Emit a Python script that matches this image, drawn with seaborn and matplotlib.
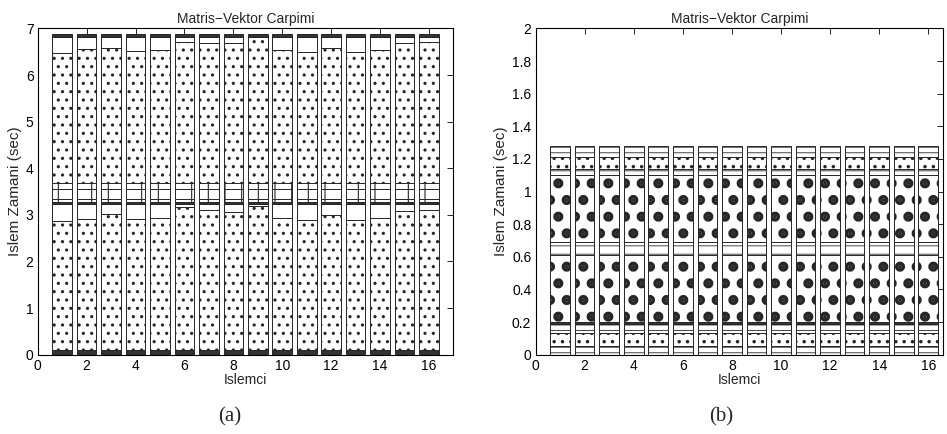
import numpy as np
import matplotlib
matplotlib.use('Agg')
import matplotlib.pyplot as plt
import seaborn as sns
from matplotlib.ticker import FuncFormatter

islemci = list(range(1, 17))

# (a) ust sinirlar (sec), alttan yukari
a_taban   = [0.09, 0.10, 0.09, 0.09, 0.10, 0.09, 0.09, 0.10, 0.09, 0.09, 0.10, 0.09, 0.09, 0.10, 0.09, 0.09]
a_nokta1  = [2.87, 2.92, 3.01, 2.92, 2.94, 3.16, 3.10, 3.07, 3.20, 2.93, 2.89, 3.00, 2.88, 2.93, 3.08, 3.10]
a_bos1    = [3.23, 3.23, 3.23, 3.23, 3.23, 3.23, 3.23, 3.23, 3.23, 3.23, 3.23, 3.23, 3.23, 3.23, 3.23, 3.23]
a_koyu1   = [3.28, 3.28, 3.28, 3.28, 3.28, 3.28, 3.28, 3.28, 3.28, 3.28, 3.28, 3.28, 3.28, 3.28, 3.28, 3.28]
a_izgara1 = [3.35, 3.35, 3.35, 3.35, 3.35, 3.35, 3.35, 3.35, 3.35, 3.35, 3.35, 3.35, 3.35, 3.35, 3.35, 3.35]
a_izgara2 = [3.55, 3.55, 3.55, 3.55, 3.55, 3.55, 3.55, 3.55, 3.55, 3.55, 3.55, 3.55, 3.55, 3.55, 3.55, 3.55]
a_izgara3 = [3.69, 3.69, 3.69, 3.69, 3.69, 3.69, 3.69, 3.69, 3.69, 3.69, 3.69, 3.69, 3.69, 3.69, 3.69, 3.69]
a_nokta2  = [6.47, 6.55, 6.59, 6.52, 6.54, 6.70, 6.68, 6.68, 6.82, 6.54, 6.50, 6.59, 6.49, 6.53, 6.68, 6.70]
a_bos2    = [6.82, 6.82, 6.82, 6.82, 6.82, 6.82, 6.82, 6.82, 6.82, 6.82, 6.82, 6.82, 6.82, 6.82, 6.82, 6.82]
a_ust     = [6.87, 6.87, 6.87, 6.87, 6.87, 6.87, 6.87, 6.87, 6.87, 6.87, 6.87, 6.87, 6.87, 6.87, 6.87, 6.87]

# (b) ust sinirlar (sec)
b_cizgi1  = [0.05, 0.05, 0.05, 0.05, 0.05, 0.05, 0.05, 0.05, 0.05, 0.05, 0.05, 0.05, 0.05, 0.05, 0.05, 0.05]
b_nokta1  = [0.13, 0.13, 0.13, 0.13, 0.13, 0.13, 0.13, 0.13, 0.13, 0.13, 0.13, 0.13, 0.13, 0.13, 0.13, 0.13]
b_cizgi2  = [0.19, 0.19, 0.19, 0.19, 0.19, 0.19, 0.19, 0.19, 0.19, 0.19, 0.19, 0.19, 0.19, 0.19, 0.19, 0.19]
b_koyu1   = [0.20, 0.20, 0.20, 0.20, 0.20, 0.20, 0.20, 0.20, 0.20, 0.20, 0.20, 0.20, 0.20, 0.20, 0.20, 0.20]
b_buyuk1  = [0.61, 0.61, 0.61, 0.61, 0.61, 0.61, 0.61, 0.61, 0.61, 0.61, 0.61, 0.61, 0.61, 0.61, 0.61, 0.61]
b_cizgi3  = [0.69, 0.69, 0.69, 0.69, 0.69, 0.69, 0.69, 0.69, 0.69, 0.69, 0.69, 0.69, 0.69, 0.69, 0.69, 0.69]
b_buyuk2  = [1.10, 1.10, 1.10, 1.10, 1.10, 1.10, 1.10, 1.10, 1.10, 1.10, 1.10, 1.10, 1.10, 1.10, 1.10, 1.10]
b_cizgi4  = [1.14, 1.14, 1.14, 1.14, 1.14, 1.14, 1.14, 1.14, 1.14, 1.14, 1.14, 1.14, 1.14, 1.14, 1.14, 1.14]
b_nokta2  = [1.21, 1.21, 1.21, 1.21, 1.21, 1.21, 1.21, 1.21, 1.21, 1.21, 1.21, 1.21, 1.21, 1.21, 1.21, 1.21]
b_ust     = [1.28, 1.28, 1.28, 1.28, 1.28, 1.28, 1.28, 1.28, 1.28, 1.28, 1.28, 1.28, 1.28, 1.28, 1.28, 1.28]

a_sinirlar = [a_taban, a_nokta1, a_bos1, a_koyu1, a_izgara1, a_izgara2, a_izgara3, a_nokta2, a_bos2, a_ust]
b_sinirlar = [b_cizgi1, b_nokta1, b_cizgi2, b_koyu1, b_buyuk1, b_cizgi3, b_buyuk2, b_cizgi4, b_nokta2, b_ust]

KOYU = '0.2'
# (desen, dolgu, desen cizgi kalinligi)
a_stil = [('', KOYU, 1), ('..', 'white', 1.1), ('', 'white', 1), ('', KOYU, 1),
          ('|', 'white', 0.8), ('|', 'white', 0.8), ('|', 'white', 0.8),
          ('..', 'white', 1.1), ('', 'white', 1), ('', KOYU, 1)]
b_stil = [('---', 'white', 0.6), ('..', 'white', 1.3), ('---', 'white', 0.6), ('', KOYU, 1),
          ('.', 'white', 4.8), ('--', 'white', 0.6), ('.', 'white', 4.8),
          ('--', 'white', 0.6), ('..', 'white', 1.3), ('---', 'white', 0.6)]

sns.set_style('white')
plt.rcParams['font.family'] = ['Liberation Sans', 'DejaVu Sans']
plt.rcParams['hatch.color'] = 'black'


def katmanlar(ax, sinirlar, stiller):
    alt = np.zeros(len(islemci))
    for ust, (desen, renk, hlw) in zip(sinirlar, stiller):
        ust = np.asarray(ust, float)
        sns.barplot(x=islemci, y=ust - alt, bottom=alt, native_scale=True, width=0.8,
                    color=renk, saturation=1, edgecolor='0.15', linewidth=0.7,
                    hatch=desen, errorbar=None, ax=ax)
        for p in ax.containers[-1]:
            if hasattr(p, 'set_hatch_linewidth'):
                p.set_hatch_linewidth(hlw)
        alt = ust


def eksen(ax, ymax, yticks, xmax):
    ax.set_xlim(0, xmax)
    ax.set_ylim(0, ymax)
    ax.set_xticks(range(0, 17, 2))
    ax.set_yticks(yticks)
    ax.yaxis.set_major_formatter(FuncFormatter(lambda v, p: '%g' % round(v, 2)))
    ax.tick_params(direction='in', top=True, right=True, length=4, width=0.6,
                   labelsize=10, pad=3, colors='black')
    for s in ax.spines.values():
        s.set_color('black')
        s.set_linewidth(0.8)
    ax.set_title('Matris\u2212Vektor Carpimi', fontsize=10, pad=4)
    ax.set_xlabel('Islemci', fontsize=10, labelpad=0)
    ax.set_ylabel('Islem Zamani (sec)', fontsize=11, labelpad=3)


fig = plt.figure(figsize=(9.47, 4.34), dpi=100)
ax1 = fig.add_axes([0.0399, 0.1829, 0.4389, 0.7516])
ax2 = fig.add_axes([0.5655, 0.1829, 0.4303, 0.7516])

katmanlar(ax1, a_sinirlar, a_stil)
katmanlar(ax2, b_sinirlar, b_stil)
eksen(ax1, 7, range(0, 8), 17)
eksen(ax2, 2, np.arange(0, 2.01, 0.2), 16.6)

fig.text(230 / 947, 1 - 417 / 434, '(a)', ha='center', va='center',
         family='Liberation Serif', fontsize=15)
fig.text(721 / 947, 1 - 417 / 434, '(b)', ha='center', va='center',
         family='Liberation Serif', fontsize=15)

fig.savefig('out.png', dpi=100)
